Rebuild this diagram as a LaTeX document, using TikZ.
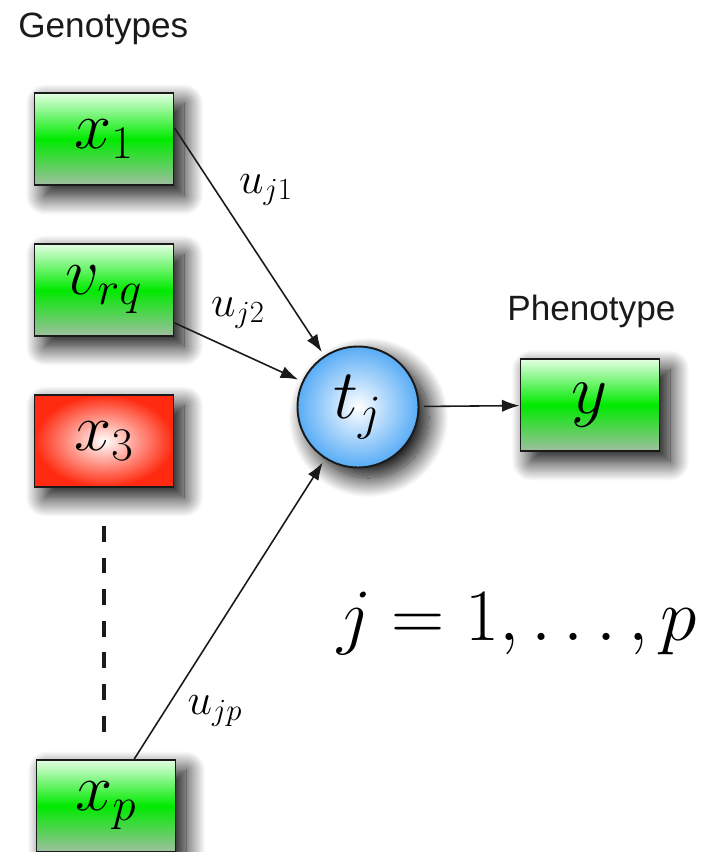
\RequirePackage{fix-cm}
\documentclass[tikz,border=0pt]{standalone}
\usepackage{fontspec}
\usepackage{amsmath}
\usepackage{tikz}
\usetikzlibrary{arrows.meta,positioning,calc,shadows.blur}
\newfontfamily\labelfont{Liberation Sans}
\definecolor{ink}{HTML}{1A1A1A}
\definecolor{genetop}{HTML}{E4FFE4}
\definecolor{genemid}{HTML}{00EA00}
\definecolor{genebot}{HTML}{A0BEA0}
\definecolor{offred}{HTML}{FF2A10}
\definecolor{hubblue}{HTML}{58ACF6}

\begin{document}
\begin{tikzpicture}[x=0.02cm,y=-0.02cm,
  varbox/.style={draw=ink,line width=1.1pt,minimum width=2.78cm,minimum height=1.84cm,
    inner sep=0pt,font=\fontsize{38}{44}\selectfont,
    blur shadow={shadow xshift=6pt,shadow yshift=-6pt,shadow blur radius=11pt,
      shadow blur steps=24,shadow opacity=100}},
  genebox/.style={varbox,top color=genetop,bottom color=genebot,middle color=genemid},
  offbox/.style={varbox,inner color=white,outer color=offred},
  hub/.style={circle,draw=ink,line width=1.1pt,minimum size=2.42cm,inner sep=0pt,outer sep=3pt,
    inner color=white,outer color=hubblue,font=\fontsize{40}{46}\selectfont,
    blur shadow={shadow xshift=6pt,shadow yshift=-6pt,shadow blur radius=11pt,
      shadow blur steps=24,shadow opacity=100}},
  wlabel/.style={font=\fontsize{25}{30}\selectfont,inner sep=0pt},
  head/.style={font=\labelfont\fontsize{20}{24}\selectfont,text=ink,inner sep=0pt,anchor=base west},
  link/.style={-{Latex[length=10pt,width=7pt]},line width=0.9pt,draw=ink}]
\useasboundingbox (0,0) rectangle (716,852);
% headings
\node[head] (geno) at (18,37) {Genotypes};
\node[head] (pheno) at (507,320) {Phenotype};
% genotype column
\node[genebox] (x1) at (104,139) {$x_1$};
\node[genebox] (vrq) at (104,290) {$v_{rq}$};
\node[offbox] (x3) at (104,441) {$x_3$};
\node[genebox] (xp) at (106,806) {$x_p$};
\draw[ink,line width=2.2pt,dash pattern=on 9pt off 9pt,shorten <=0.76cm,shorten >=0.48cm]
  (x3.south) -- (x3.south |- xp.north);
% hidden node and phenotype
\node[hub] (tj) at (358,407) {$t_j$};
\node[genebox,font=\fontsize{40}{46}\selectfont] (y) at (590,405) {$y$};
% weights
\draw[link] (x1.9) -- (tj);
\draw[link] (vrq.-25) -- (tj);
\draw[link] (xp.59) -- (tj);
\draw[link] (tj) -- (y);
\node[wlabel] (u1) at (266,190) {$u_{j1}$};
\node[wlabel] (u2) at (238,313) {$u_{j2}$};
\node[wlabel] (up) at (215,711) {$u_{jp}$};
\node[font=\fontsize{42}{48}\selectfont,inner sep=0pt,anchor=base west] (range) at (337,640) {$j = 1,\ldots,p$};
\end{tikzpicture}
\end{document}
